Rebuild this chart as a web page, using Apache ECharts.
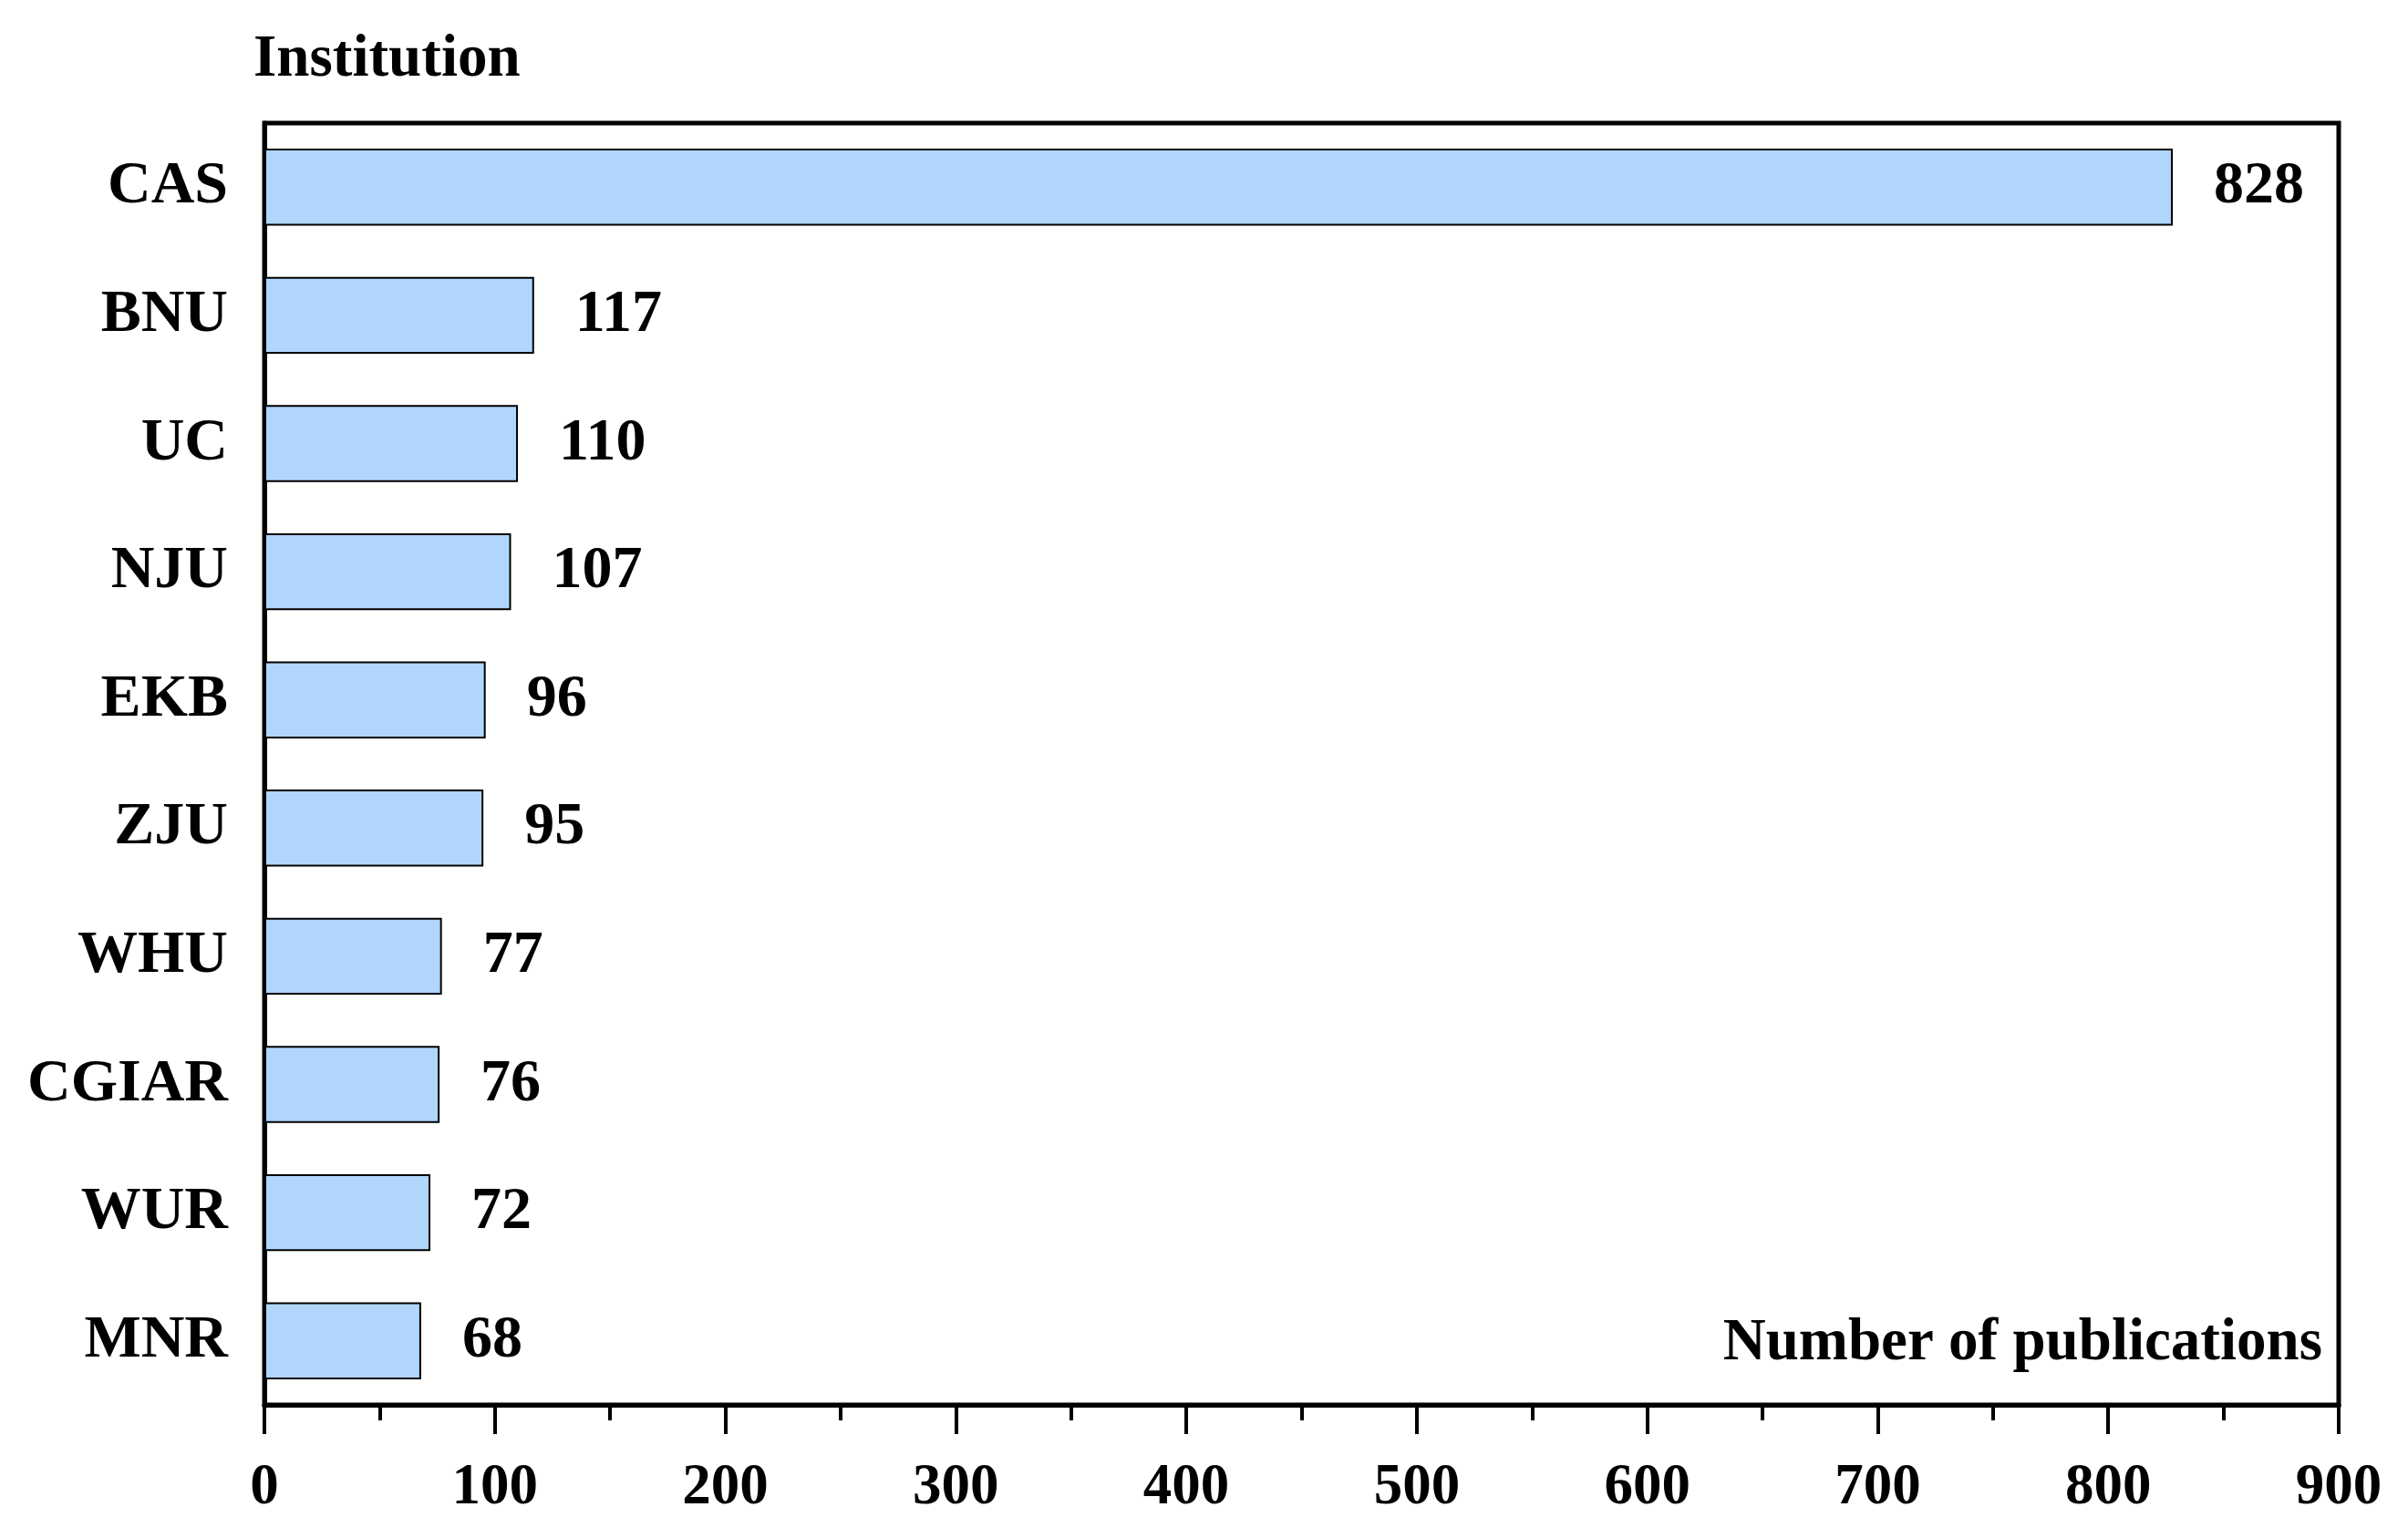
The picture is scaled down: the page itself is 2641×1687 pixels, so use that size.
<!DOCTYPE html>
<html>
<head>
<meta charset="utf-8">
<script src="https://cdn.jsdelivr.net/npm/echarts@6/dist/echarts.min.js"></script>
<style>
html,body{margin:0;padding:0;background:#fff;}
#chart{width:2641px;height:1687px;}
</style>
</head>
<body>
<div id="chart"></div>
<script>
const categories = ['CAS','BNU','UC','NJU','EKB','ZJU','WHU','CGIAR','WUR','MNR'];
const publications = [828,117,110,107,96,95,77,76,72,68];
const xTicks = [0,100,200,300,400,500,600,700,800,900];
const yAxisTitle = 'Institution';
const xAxisTitle = 'Number of publications';

const FONT = '"Liberation Serif", "Times New Roman", serif';
const chart = echarts.init(document.getElementById('chart'), null, {renderer:'canvas'});
chart.setOption({
  backgroundColor:'#ffffff',
  animation:false,
  grid:{left:290, right:76, top:135, bottom:146, show:true, borderColor:'#000', borderWidth:5, backgroundColor:'transparent'},
  xAxis:{
    type:'value', min:xTicks[0], max:xTicks[xTicks.length-1], interval:100,
    axisLine:{show:true, lineStyle:{color:'#000', width:5}},
    axisTick:{show:true, length:32, lineStyle:{color:'#000', width:4}},
    minorTick:{show:true, splitNumber:2, length:17, lineStyle:{color:'#000', width:4}},
    splitLine:{show:false},
    axisLabel:{color:'#000', fontFamily:FONT, fontWeight:'bold', fontSize:63, margin:60}
  },
  yAxis:{
    type:'category', data:categories, inverse:true,
    axisLine:{show:true, lineStyle:{color:'#000', width:5}},
    axisTick:{show:false},
    axisLabel:{color:'#000', fontFamily:FONT, fontWeight:'bold', fontSize:66, margin:40, padding:[12,0,0,0]}
  },
  graphic:[
    {type:'text', left:278, top:34, style:{text:yAxisTitle, fill:'#000', font:'bold 65px ' + FONT}},
    {type:'text', right:94, top:1442, style:{text:xAxisTitle, fill:'#000', font:'bold 65px ' + FONT}}
  ],
  series:[{
    type:'bar', data:publications, barWidth:'60%',
    itemStyle:{color:'#b0d6fc', borderColor:'#000', borderWidth:2},
    label:{show:true, position:'right', distance:45, color:'#000', fontFamily:FONT, fontWeight:'bold', fontSize:66, padding:[14,0,0,0]}
  }]
});
</script>
</body>
</html>
